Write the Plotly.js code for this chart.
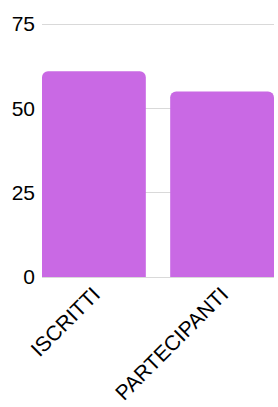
<!DOCTYPE html>
<html>
<head>
<meta charset="utf-8">
<script src="https://cdn.plot.ly/plotly-3.0.1.min.js"></script>
<style>html,body{margin:0;padding:0;background:#fff;}#chart{width:278px;height:407px;}</style>
</head>
<body>
<div id="chart"></div>
<script>
const categories = ["ISCRITTI", "PARTECIPANTI"];
const values = [61, 55];
const yTicks = [0, 25, 50, 75];

const trace = {
  type: "bar",
  x: categories,
  y: values,
  width: 0.81,
  marker: { color: "#c969e4", cornerradius: 6, line: { width: 0 } },
  hoverinfo: "none"
};

const layout = {
  width: 278,
  height: 407,
  margin: { l: 42, r: 4, t: 23, b: 130 },
  paper_bgcolor: "#fff",
  plot_bgcolor: "#fff",
  showlegend: false,
  font: { family: "Liberation Sans, Arial, sans-serif", size: 21, color: "#000" },
  xaxis: {
    type: "category",
    range: [-0.405, 1.405],
    tickangle: -45,
    showgrid: false,
    zeroline: false,
    showline: false,
    ticks: "",
    tickfont: { size: 21, color: "#000" }
  },
  yaxis: {
    range: [0, 75.3],
    tickvals: yTicks,
    ticktext: yTicks.map(String),
    showgrid: true,
    gridcolor: "#d9d9d9",
    gridwidth: 1,
    zeroline: true,
    zerolinecolor: "#d9d9d9",
    zerolinewidth: 1,
    showline: false,
    ticks: "",
    ticklabelstandoff: 6,
    tickfont: { size: 21, color: "#000" }
  }
};

Plotly.newPlot("chart", [trace], layout, { displayModeBar: false, staticPlot: true });
</script>
</body>
</html>
